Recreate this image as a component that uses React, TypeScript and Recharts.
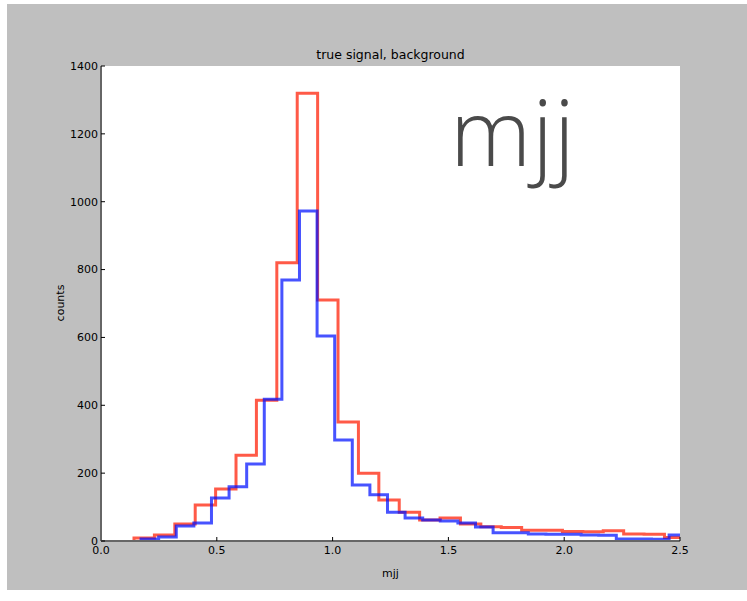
import { LineChart, Line, XAxis, YAxis, CartesianGrid, Label } from 'recharts';

const xTicks = [0, 0.5, 1.0, 1.5, 2.0, 2.5];
const yTicks = [0, 200, 400, 600, 800, 1000, 1200, 1400];

// true signal: 27 equal-width bins over [lo, hi]
const signalRange = [0.1425, 2.521];
const signalCounts = [
  9, 18, 50, 106, 153, 253, 415, 820, 1320, 710, 351, 200, 121, 85,
  62, 68, 50, 42, 40, 32, 32, 28, 27, 30, 21, 20, 10,
];

// background: 31 equal-width bins over [lo, hi]
const backgroundRange = [0.173, 2.529];
const backgroundCounts = [
  6, 12, 44, 53, 127, 160, 227, 418, 769, 973, 604, 298, 165, 136, 85,
  68, 62, 59, 53, 41, 24, 24, 21, 20, 20, 18, 17, 6, 6, 5, 18,
];

const FONT = '"DejaVu Sans", sans-serif';
const FRAME = { stroke: '#666666', strokeWidth: 2 };

// outline of a step histogram (like histtype='step')
function stepOutline(range: number[], counts: number[]) {
  const w = (range[1] - range[0]) / counts.length;
  const pts = [{ x: range[0], y: 0 }];
  counts.forEach((c, i) => pts.push({ x: range[0] + i * w, y: c }));
  pts.push({ x: range[1], y: 0 });
  return pts;
}

const signalData = stepOutline(signalRange, signalCounts);
const backgroundData = stepOutline(backgroundRange, backgroundCounts);

export default function App() {
  return (
    <div style={{ position: 'absolute', left: 0, top: 0, width: 747, height: 601, background: '#ffffff' }}>
      <div style={{ position: 'absolute', left: 7, top: 4, width: 740, height: 586, background: '#bfbfbf' }} />
      <div style={{ position: 'absolute', left: 0, top: 0 }}>
        <LineChart width={747} height={601} margin={{ top: 66, right: 67, bottom: 36, left: 41 }}>
          <CartesianGrid fill="#ffffff" horizontal={false} vertical={false} />
          <XAxis
            dataKey="x"
            type="number"
            domain={[0, 2.5]}
            ticks={xTicks}
            allowDataOverflow
            height={24}
            tickSize={-4}
            tickMargin={9}
            tickFormatter={(v: number) => v.toFixed(1)}
            tick={{ fontSize: 11, fill: '#000', fontFamily: FONT }}
            tickLine={{ stroke: '#000' }}
            axisLine={FRAME}
          >
            <Label value="mjj" position="bottom" offset={4} fontSize={11} fill="#000" fontFamily={FONT} />
          </XAxis>
          <XAxis
            xAxisId="top"
            orientation="top"
            type="number"
            domain={[0, 2.5]}
            ticks={xTicks}
            height={0}
            tick={false}
            tickSize={-4}
            tickLine={{ stroke: '#000' }}
            axisLine={FRAME}
          />
          <YAxis
            type="number"
            domain={[0, 1400]}
            ticks={yTicks}
            width={60}
            tickSize={-4}
            tickMargin={7}
            tick={{ fontSize: 11, fill: '#000', fontFamily: FONT }}
            tickLine={{ stroke: '#000' }}
            axisLine={FRAME}
          />
          <YAxis
            yAxisId="right"
            orientation="right"
            type="number"
            domain={[0, 1400]}
            ticks={yTicks}
            width={0}
            tick={false}
            tickSize={-4}
            tickLine={{ stroke: '#000' }}
            axisLine={FRAME}
          />
          <Line
            data={signalData}
            dataKey="y"
            type="stepAfter"
            stroke="#ff1a00"
            strokeOpacity={0.72}
            strokeWidth={3}
            dot={false}
            isAnimationActive={false}
          />
          <Line
            data={backgroundData}
            dataKey="y"
            type="stepAfter"
            stroke="#0010ff"
            strokeOpacity={0.72}
            strokeWidth={3}
            dot={false}
            isAnimationActive={false}
          />
        </LineChart>
      </div>
      <svg width={747} height={601} style={{ position: 'absolute', left: 0, top: 0, pointerEvents: 'none' }}>
        <text x={390.5} y={59} textAnchor="middle" fontSize={12.5} fontFamily={FONT} fill="#000">
          true signal, background
        </text>
        <text
          x={61}
          y={303}
          textAnchor="middle"
          dominantBaseline="middle"
          fontSize={11}
          fontFamily={FONT}
          fill="#000"
          transform="rotate(-90, 61, 303)"
        >
          counts
        </text>
        <text
          x={450}
          y={166}
          fontSize={92}
          fontWeight={300}
          letterSpacing={1}
          fontFamily='"Open Sans", sans-serif'
          fill="#4a4a4a"
        >
          mjj
        </text>
      </svg>
    </div>
  );
}
